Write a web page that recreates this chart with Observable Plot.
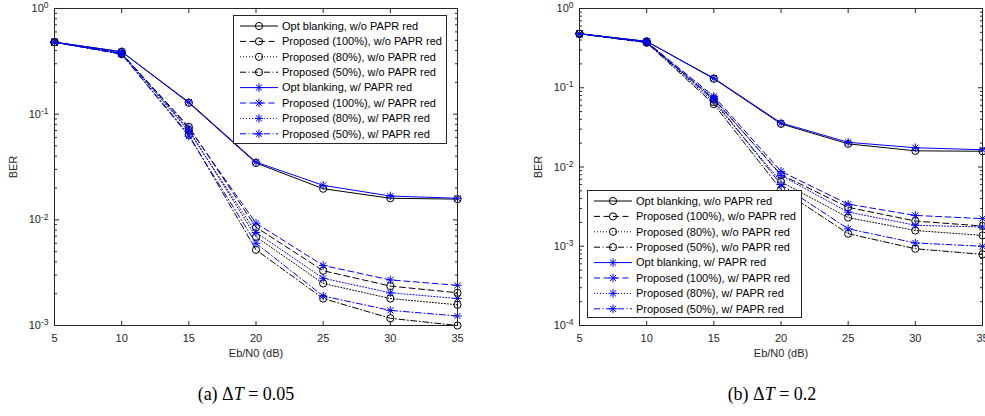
<!DOCTYPE html>
<html><head><meta charset="utf-8">
<script src="https://cdn.jsdelivr.net/npm/d3@7"></script>
<script src="https://cdn.jsdelivr.net/npm/@observablehq/plot@0.6"></script>
<style>
html,body{margin:0;padding:0;background:#fff;overflow:hidden}
#wrap{position:relative;width:985px;height:416px;overflow:hidden;background:#fff;font-family:"Liberation Sans",Arial,Helvetica,sans-serif}
.panel{position:absolute;top:0}
.legend{position:absolute}
.caption{position:absolute;top:384px;font-family:"Liberation Serif","Times New Roman",serif;font-size:18px;color:#000;white-space:nowrap;transform:translateX(-50%)}
.caption i{font-style:italic}
</style></head>
<body><div id="wrap"></div>
<script>
// ---------- data ----------
const snr = [5, 10, 15, 20, 25, 30, 35];
const xTicks = [5, 10, 15, 20, 25, 30, 35];
const yTicksA = [1, 0.1, 0.01, 0.001];
const yTicksB = [1, 0.1, 0.01, 0.001, 0.0001];

const seriesNames = [
  "Opt blanking, w/o PAPR red",
  "Proposed (100%), w/o PAPR red",
  "Proposed (80%), w/o PAPR red",
  "Proposed (50%), w/o PAPR red",
  "Opt blanking, w/ PAPR red",
  "Proposed (100%), w/ PAPR red",
  "Proposed (80%), w/ PAPR red",
  "Proposed (50%), w/ PAPR red"
];
const seriesColors = ["#000000", "#000000", "#000000", "#000000", "#0000ff", "#0000ff", "#0000ff", "#0000ff"];
const seriesDash = ["none", "6,3.5", "1,2", "6,2.5,1,2.5", "none", "6,3.5", "1,2", "6,2.5,1,2.5"];
const seriesMarker = ["circle", "circle", "circle", "circle", "star", "star", "star", "star"];

// (a) DeltaT = 0.05
const optWoA  = [0.48, 0.39, 0.128, 0.0345, 0.0197, 0.0160, 0.0157];
const p100WoA = [0.48, 0.375, 0.076, 0.0085, 0.0033, 0.00236, 0.00204];
const p80WoA  = [0.48, 0.375, 0.071, 0.0069, 0.0025, 0.0018, 0.00157];
const p50WoA  = [0.48, 0.37, 0.064, 0.0052, 0.0018, 0.00117, 0.00100];
const optWA   = [0.48, 0.39, 0.130, 0.0352, 0.0212, 0.0168, 0.0160];
const p100WA  = [0.48, 0.375, 0.074, 0.0093, 0.0037, 0.0027, 0.0024];
const p80WA   = [0.48, 0.375, 0.069, 0.0076, 0.0028, 0.00204, 0.0018];
const p50WA   = [0.48, 0.37, 0.062, 0.0060, 0.0019, 0.00139, 0.00123];

// (b) DeltaT = 0.2
const optWoB  = [0.48, 0.385, 0.130, 0.035, 0.0196, 0.0160, 0.0158];
const p100WoB = [0.48, 0.375, 0.072, 0.0080, 0.0031, 0.00208, 0.0018];
const p80WoB  = [0.48, 0.375, 0.066, 0.0065, 0.0023, 0.00158, 0.00137];
const p50WoB  = [0.48, 0.37, 0.062, 0.0052, 0.00144, 0.00093, 0.00079];
const optWB   = [0.48, 0.385, 0.132, 0.036, 0.0205, 0.0175, 0.0165];
const p100WB  = [0.48, 0.38, 0.078, 0.0088, 0.0034, 0.00245, 0.00223];
const p80WB   = [0.48, 0.38, 0.074, 0.0078, 0.0027, 0.00184, 0.00175];
const p50WB   = [0.48, 0.375, 0.070, 0.0060, 0.00166, 0.0011, 0.00100];

const valuesA = [optWoA, p100WoA, p80WoA, p50WoA, optWA, p100WA, p80WA, p50WA];
const valuesB = [optWoB, p100WoB, p80WoB, p50WoB, optWB, p100WB, p80WB, p50WB];

// ---------- helpers ----------
const AX = "#262626";
const star8 = {
  draw(ctx, size) {
    const r = Math.sqrt(size / Math.PI);
    const d = r * 0.72;
    ctx.moveTo(-r, 0); ctx.lineTo(r, 0);
    ctx.moveTo(0, -r); ctx.lineTo(0, r);
    ctx.moveTo(-d, -d); ctx.lineTo(d, d);
    ctx.moveTo(-d, d); ctx.lineTo(d, -d);
  }
};
function symFor(m) { return m === "circle" ? "circle" : star8; }
function minorTicks(lo, hi) {
  const out = [];
  for (let e = lo; e < hi; e++) for (let m = 2; m <= 9; m++) out.push(m * Math.pow(10, e));
  return out;
}
function expLabel(d) { return "10^" + Math.round(Math.log10(d)); }

function makePanel(values, yDomain, yMajor, yMinor, width, mL, mR) {
  const marks = [];
  values.forEach((vals, k) => {
    const rows = snr.map((x, i) => ({x, y: vals[i]}));
    marks.push(Plot.line(rows, {x: "x", y: "y", stroke: seriesColors[k], strokeWidth: 1,
      strokeDasharray: seriesDash[k] === "none" ? null : seriesDash[k]}));
    marks.push(Plot.dot(rows, {x: "x", y: "y", symbol: symFor(seriesMarker[k]), stroke: seriesColors[k],
      fill: "none", strokeWidth: 1, r: seriesMarker[k] === "circle" ? 3.6 : 4.3}));
  });
  marks.push(
    Plot.frame({stroke: AX, strokeWidth: 1}),
    Plot.axisX({anchor: "bottom", ticks: xTicks, tickSize: -4, tickPadding: 13, color: AX,
      tickFormat: d => String(d), label: "Eb/N0 (dB)", labelAnchor: "center", labelArrow: "none", labelOffset: 31}),
    Plot.axisX({anchor: "top", ticks: xTicks, tickSize: -4, stroke: AX, fill: "none", label: null}),
    Plot.axisY({anchor: "left", ticks: yMajor, tickSize: -5, tickPadding: 11, color: AX,
      tickFormat: expLabel, label: "BER", labelAnchor: "center", labelArrow: "none", labelOffset: 45}),
    Plot.axisY({anchor: "left", ticks: yMinor, tickSize: -3, stroke: AX, fill: "none", label: null}),
    Plot.axisY({anchor: "right", ticks: yMajor, tickSize: -5, stroke: AX, fill: "none", label: null}),
    Plot.axisY({anchor: "right", ticks: yMinor, tickSize: -3, stroke: AX, fill: "none", label: null})
  );
  const svg = Plot.plot({
    width, height: 370,
    marginTop: 8, marginBottom: 45, marginLeft: mL, marginRight: mR,
    x: {type: "linear", domain: [5, 35]},
    y: {type: "log", domain: yDomain},
    style: {fontSize: "11px", fontFamily: '"Liberation Sans", Arial, Helvetica, sans-serif', background: "white", overflow: "visible"},
    marks
  });
  // superscript exponents on the y tick labels
  d3.select(svg).selectAll('g[aria-label="y-axis tick label"] text').each(function () {
    const t = d3.select(this);
    const s = t.text();
    if (s.indexOf("10^") !== 0) return;
    const ex = s.slice(3);
    t.text("");
    t.append("tspan").text("10");
    t.append("tspan").attr("dy", "-0.45em").attr("font-size", "8.5px").text(ex);
  });
  return svg;
}

function makeLegend(w, h) {
  const rowH = 15.4;
  const svg = d3.create("svg").attr("width", w).attr("height", h)
    .style("font-family", '"Liberation Sans", Arial, Helvetica, sans-serif').style("font-size", "11px")
    .style("display", "block");
  svg.append("rect").attr("x", 0.5).attr("y", 0.5).attr("width", w - 1).attr("height", h - 1)
    .attr("fill", "white").attr("stroke", AX).attr("stroke-width", 1);
  seriesNames.forEach((name, k) => {
    const cy = 11 + k * rowH;
    const g = svg.append("g");
    g.append("line").attr("x1", 7).attr("x2", 45).attr("y1", cy).attr("y2", cy)
      .attr("stroke", seriesColors[k]).attr("stroke-width", 1)
      .attr("stroke-dasharray", seriesDash[k] === "none" ? null : seriesDash[k]);
    const r = seriesMarker[k] === "circle" ? 3.6 : 4.3;
    g.append("path").attr("transform", `translate(26,${cy})`)
      .attr("d", d3.symbol(seriesMarker[k] === "circle" ? d3.symbolCircle : star8, Math.PI * r * r)())
      .attr("fill", "none").attr("stroke", seriesColors[k]).attr("stroke-width", 1);
    g.append("text").attr("x", 49).attr("y", cy).attr("dy", "0.35em").attr("fill", "#000").text(name);
  });
  return svg.node();
}

// ---------- layout ----------
const wrap = document.getElementById("wrap");

const pa = document.createElement("div"); pa.className = "panel"; pa.style.left = "0px";
pa.appendChild(makePanel(valuesA, [0.001, 1], yTicksA, minorTicks(-3, 0), 490, 54, 33));
wrap.appendChild(pa);

const pb = document.createElement("div"); pb.className = "panel"; pb.style.left = "490px";
pb.appendChild(makePanel(valuesB, [0.0001, 1], yTicksB, minorTicks(-4, 0), 495, 89, 3));
wrap.appendChild(pb);

const la = document.createElement("div"); la.className = "legend";
la.style.left = "233px"; la.style.top = "15px";
la.appendChild(makeLegend(214, 129));
wrap.appendChild(la);

const lb = document.createElement("div"); lb.className = "legend";
lb.style.left = "587px"; lb.style.top = "190px";
lb.appendChild(makeLegend(215, 128));
wrap.appendChild(lb);

const ca = document.createElement("div"); ca.className = "caption"; ca.style.left = "246px";
ca.innerHTML = "(a) &Delta;<i>T</i> = 0.05";
wrap.appendChild(ca);
const cb = document.createElement("div"); cb.className = "caption"; cb.style.left = "772px";
cb.innerHTML = "(b) &Delta;<i>T</i> = 0.2";
wrap.appendChild(cb);
</script>
</body></html>
